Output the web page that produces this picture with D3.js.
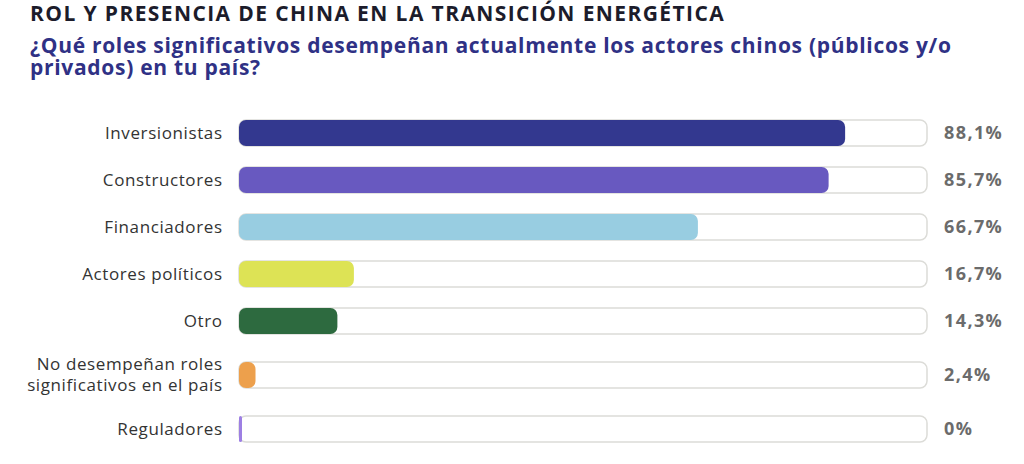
<!DOCTYPE html>
<html>
<head>
<meta charset="utf-8">
<script src="https://cdn.jsdelivr.net/npm/d3@7.9.0/dist/d3.min.js"></script>
<style>
  html, body { margin: 0; padding: 0; background: #fff; }
  svg { display: block; font-family: "Open Sans", "Noto Sans", sans-serif; }
</style>
</head>
<body>
<svg id="chart" width="1024" height="464"></svg>
<script>
// ---- data ----
const categories = [
  'Inversionistas',
  'Constructores',
  'Financiadores',
  'Actores políticos',
  'Otro',
  'No desempeñan roles|significativos en el país',
  'Reguladores'
];
const values = [88.1, 85.7, 66.7, 16.7, 14.3, 2.4, 0];
const valueLabels = ['88,1%', '85,7%', '66,7%', '16,7%', '14,3%', '2,4%', '0%'];
const colors = ['#33388f', '#6859c0', '#98cde1', '#dde355', '#2d6a3f', '#eda04c', '#9d7fe3'];

const title = 'ROL Y PRESENCIA DE CHINA EN LA TRANSICIÓN ENERGÉTICA';
const subtitle = ['¿Qué roles significativos desempeñan actualmente los actores chinos (públicos y/o', 'privados) en tu país?'];

// ---- layout ----
const svg = d3.select('#chart');
const barH = 26;
const lineH = 20;
const gap = 21;
const rowsTop = 120;

const x = d3.scaleLinear().domain([0, 100]).range([239, 927]);

// rows grow with their label line count, so y offsets are cumulative
const lines = categories.map(c => c.split('|'));
const offsets = [];
let acc = rowsTop;
lines.forEach(l => {
  const h = Math.max(barH, l.length * lineH);
  offsets.push(acc + h / 2);
  acc += h + gap;
});
const y = d3.scaleOrdinal().domain(categories).range(offsets);

// header
svg.append('text')
  .attr('x', 30).attr('y', 21)
  .attr('font-size', 21).attr('font-weight', 700)
  .attr('letter-spacing', 1.4)
  .attr('fill', '#1c1c2b')
  .text(title);

svg.append('text')
  .attr('font-size', 21).attr('font-weight', 700)
  .attr('letter-spacing', 0.7)
  .attr('fill', '#2f3185')
  .selectAll('tspan').data(subtitle).join('tspan')
  .attr('x', 30).attr('y', (d, i) => 53 + i * 22)
  .text(d => d);

// rows
const rows = svg.append('g').selectAll('g').data(categories).join('g')
  .attr('transform', d => `translate(0,${y(d)})`);

rows.append('rect')
  .attr('x', x(0)).attr('y', -barH / 2)
  .attr('width', x(100) - x(0)).attr('height', barH)
  .attr('rx', 7)
  .attr('fill', '#fff').attr('stroke', '#dcdcd8').attr('stroke-width', 1.5);

rows.append('rect')
  .attr('x', x(0)).attr('y', -barH / 2)
  .attr('width', (d, i) => Math.max(x(values[i]) - x(0), 3))
  .attr('height', barH)
  .attr('rx', (d, i) => values[i] === 0 ? 1.5 : 7)
  .attr('fill', (d, i) => colors[i]);

rows.append('text')
  .attr('text-anchor', 'end')
  .attr('font-size', 17)
  .attr('letter-spacing', 0.6)
  .attr('fill', '#333')
  .selectAll('tspan').data(d => d.split('|')).join('tspan')
  .attr('x', 222.6)
  .attr('y', (d, i, n) => (i - (n.length - 1) / 2) * 21)
  .attr('dy', '0.35em')
  .text(d => d);

rows.append('text')
  .attr('x', 944).attr('dy', '0.35em')
  .attr('font-size', 18).attr('font-weight', 700)
  .attr('letter-spacing', 1.4)
  .attr('fill', '#6b6b6b')
  .text((d, i) => valueLabels[i]);
</script>
</body>
</html>
